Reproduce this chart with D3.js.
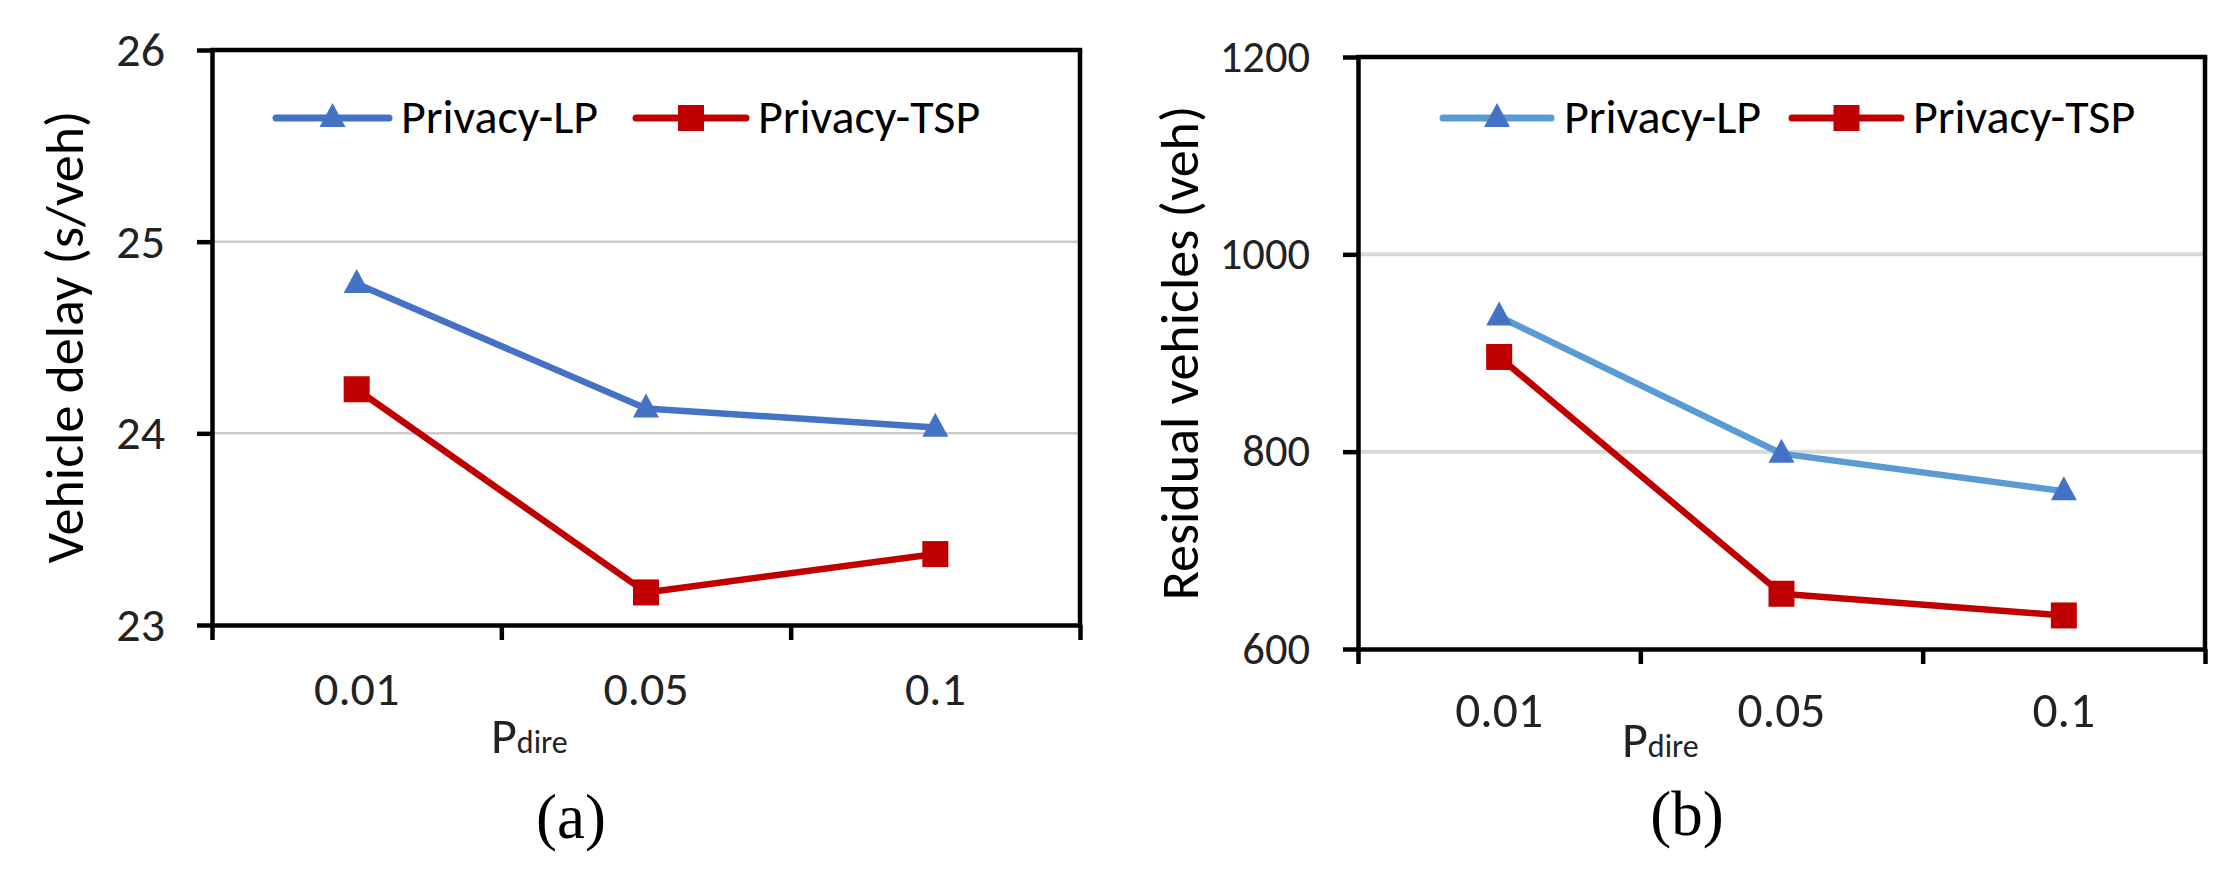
<!DOCTYPE html>
<html>
<head>
<meta charset="utf-8">
<script src="https://cdn.jsdelivr.net/npm/d3@7"></script>
<style>
  html, body { margin: 0; padding: 0; background: #fff; }
  svg { display: block; }
</style>
</head>
<body>
<svg id="chart" width="2221" height="888"></svg>
<script>
// ---------------- data ----------------
const categories = ["0.01", "0.05", "0.1"];
const seriesNames = ["Privacy-LP", "Privacy-TSP"];
const delayLP = [24.78, 24.13, 24.03];
const delayTSP = [24.23, 23.17, 23.37];
const residualLP = [937, 798, 760];
const residualTSP = [896, 656, 634];
const delayTicks = [23, 24, 25, 26];
const residualTicks = [600, 800, 1000, 1200];
const delayLabel = "Vehicle delay (s/veh)";
const residualLabel = "Residual vehicles (veh)";
const panelTags = ["(a)", "(b)"];

// ---------------- layout ----------------
const SANS = "Carlito, Calibri, Lato, sans-serif";
const SERIF = "'Liberation Serif', 'Times New Roman', serif";
const svg = d3.select("#chart");

const panels = [
  {
    box: {left: 212, right: 1080, top: 50, bottom: 625},
    domain: [23, 26], ticks: delayTicks, series: [delayLP, delayTSP],
    yLabel: delayLabel, yLabelX: 83, yLabelY: 337, yLabelSize: 54,
    yTickSize: 48, yTickRight: 165, xTickSize: 48, xTickBase: 705,
    lineColors: ["#4472C4", "#C00000"], markColors: ["#4472C4", "#C00000"],
    grid: {color: "#cccccc", width: 2.5},
    legend: [{x1: 276, x2: 389, tx: 401}, {x1: 636, x2: 746, tx: 758}], legendY: 118,
    pX: 491, pY: 753, tag: panelTags[0], tagX: 571, tagY: 838
  },
  {
    box: {left: 1358, right: 2205, top: 57, bottom: 649},
    domain: [600, 1200], ticks: residualTicks, series: [residualLP, residualTSP],
    yLabel: residualLabel, yLabelX: 1198, yLabelY: 353, yLabelSize: 54,
    yTickSize: 44.5, yTickRight: 1310, xTickSize: 49.5, xTickBase: 727,
    lineColors: ["#5B9BD5", "#C00000"], markColors: ["#4472C4", "#C00000"],
    grid: {color: "#d9d9d9", width: 4},
    legend: [{x1: 1443, x2: 1551, tx: 1564}, {x1: 1792, x2: 1901, tx: 1913}], legendY: 118,
    pX: 1622, pY: 757, tag: panelTags[1], tagX: 1687, tagY: 835
  }
];

const AXW = 4.5;     // axis stroke width
const TICK = 15;     // tick length
const MS = 26;       // marker size

function drawMarker(g, type, cx, cy, color) {
  if (type === 0) {
    const w = MS, h = 24;
    g.append("path")
      .attr("d", `M${cx},${cy - h * 0.62} L${cx + w / 2},${cy + h * 0.38} L${cx - w / 2},${cy + h * 0.38} Z`)
      .attr("fill", color);
  } else {
    g.append("rect")
      .attr("x", cx - MS / 2).attr("y", cy - MS / 2)
      .attr("width", MS).attr("height", MS)
      .attr("fill", color);
  }
}

panels.forEach(p => {
  const b = p.box;
  const g = svg.append("g");

  const x = d3.scaleBand().domain(categories).range([b.left, b.right]);
  const xEdge = d3.scaleLinear().domain([0, categories.length]).range([b.left, b.right]);
  const y = d3.scaleLinear().domain(p.domain).range([b.bottom, b.top]);

  // gridlines (inner ticks)
  g.append("g").selectAll("line")
    .data(p.ticks.slice(1, -1))
    .join("line")
    .attr("x1", b.left).attr("x2", b.right)
    .attr("y1", d => y(d)).attr("y2", d => y(d))
    .attr("stroke", p.grid.color).attr("stroke-width", p.grid.width);

  // left axis with outward ticks
  const yAxis = g.append("g")
    .attr("transform", `translate(${b.left},0)`)
    .call(d3.axisLeft(y).tickValues(p.ticks).tickSize(TICK).tickSizeOuter(0).tickFormat(""));
  yAxis.select(".domain").attr("stroke", "#000").attr("stroke-width", AXW);
  yAxis.selectAll(".tick line").attr("stroke", "#000").attr("stroke-width", AXW);

  // y tick labels
  g.append("g").selectAll("text")
    .data(p.ticks)
    .join("text")
    .attr("x", p.yTickRight).attr("y", d => y(d))
    .attr("dy", "0.33em")
    .attr("text-anchor", "end")
    .style("font-family", SANS)
    .attr("font-size", p.yTickSize)
    .attr("fill", "#222")
    .text(d => d);

  // bottom axis with boundary ticks
  const xAxis = g.append("g")
    .attr("transform", `translate(0,${b.bottom})`)
    .call(d3.axisBottom(xEdge).tickValues(d3.range(categories.length + 1)).tickSize(TICK).tickSizeOuter(0).tickFormat(""));
  xAxis.select(".domain").attr("stroke", "#000").attr("stroke-width", AXW);
  xAxis.selectAll(".tick line").attr("stroke", "#000").attr("stroke-width", AXW);

  // top & right border
  g.append("line")
    .attr("x1", b.left - 2).attr("x2", b.right + AXW / 2)
    .attr("y1", b.top).attr("y2", b.top)
    .attr("stroke", "#000").attr("stroke-width", AXW);
  g.append("line")
    .attr("x1", b.right).attr("x2", b.right)
    .attr("y1", b.top).attr("y2", b.bottom)
    .attr("stroke", "#000").attr("stroke-width", AXW);

  // x tick labels
  g.append("g").selectAll("text")
    .data(categories)
    .join("text")
    .attr("x", d => x(d) + x.bandwidth() / 2)
    .attr("y", p.xTickBase)
    .attr("text-anchor", "middle")
    .style("font-family", SANS)
    .attr("font-size", p.xTickSize)
    .attr("fill", "#222")
    .text(d => d);

  // series lines and markers
  p.series.forEach((vals, si) => {
    const line = d3.line()
      .x((d, i) => x(categories[i]) + x.bandwidth() / 2)
      .y(d => y(d));
    g.append("path")
      .datum(vals)
      .attr("d", line)
      .attr("fill", "none")
      .attr("stroke", p.lineColors[si])
      .attr("stroke-width", 6.5)
      .attr("stroke-linejoin", "round");
    vals.forEach((v, i) => {
      drawMarker(g, si, x(categories[i]) + x.bandwidth() / 2, y(v), p.markColors[si]);
    });
  });

  // legend
  p.legend.forEach((L, si) => {
    g.append("line")
      .attr("x1", L.x1).attr("x2", L.x2)
      .attr("y1", p.legendY).attr("y2", p.legendY)
      .attr("stroke", p.lineColors[si]).attr("stroke-width", 7)
      .attr("stroke-linecap", "round");
    drawMarker(g, si, (L.x1 + L.x2) / 2, p.legendY, p.markColors[si]);
    g.append("text")
      .attr("x", L.tx).attr("y", p.legendY + 15)
      .style("font-family", SANS)
      .attr("font-size", 48)
      .attr("fill", "#000")
      .text(seriesNames[si]);
  });

  // y axis title
  g.append("text")
    .attr("transform", `translate(${p.yLabelX},${p.yLabelY}) rotate(-90)`)
    .attr("text-anchor", "middle")
    .style("font-family", SANS)
    .attr("font-size", p.yLabelSize)
    .attr("fill", "#000")
    .text(p.yLabel);

  // x axis title P_dire
  const xt = g.append("text")
    .attr("x", p.pX).attr("y", p.pY)
    .style("font-family", SANS)
    .attr("fill", "#222");
  xt.append("tspan").attr("font-size", 50).text("P");
  xt.append("tspan").attr("font-size", 32).text("dire");

  // panel tag
  g.append("text")
    .attr("x", p.tagX).attr("y", p.tagY)
    .attr("text-anchor", "middle")
    .style("font-family", SERIF)
    .attr("font-size", 63)
    .attr("fill", "#000")
    .text(p.tag);
});
</script>
</body>
</html>
